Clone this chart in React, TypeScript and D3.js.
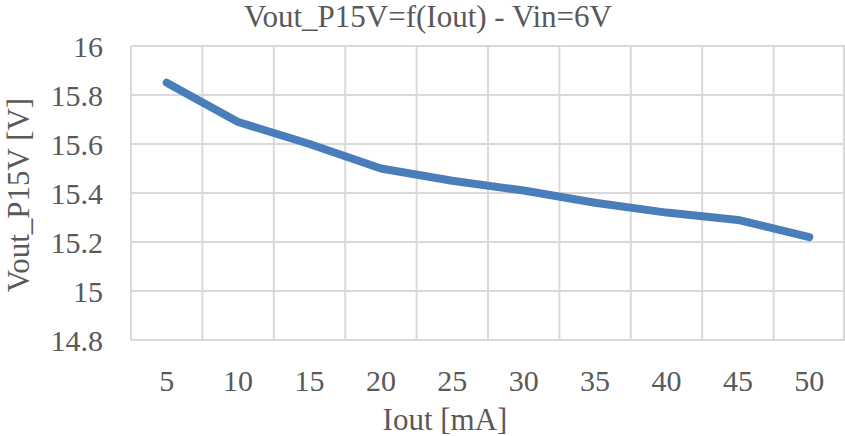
import React, { useRef, useEffect } from 'react';
import * as d3 from 'd3';

const currents = ['5', '10', '15', '20', '25', '30', '35', '40', '45', '50'];
const vout = [15.85, 15.69, 15.6, 15.5, 15.45, 15.41, 15.36, 15.32, 15.29, 15.22];
const yTicks = [14.8, 15, 15.2, 15.4, 15.6, 15.8, 16];

const FONT = '"Liberation Serif", "DejaVu Serif", serif';
const TEXT = '#595959';

const App: React.FC = () => {
  const svgRef = useRef<SVGSVGElement>(null);

  useEffect(() => {
    if (!svgRef.current) return;
    const svg = d3.select(svgRef.current);
    svg.selectAll('*').remove();

    const width = 845;
    const height = 436;
    const left = 131;
    const right = 845;
    const top = 46;
    const bottom = 340;

    svg.attr('width', width).attr('height', height);

    const x = d3.scaleBand<string>().domain(currents).range([left, right]);
    const y = d3.scaleLinear().domain([14.8, 16]).range([bottom, top]);

    const grid = svg.append('g').attr('stroke', '#d9d9d9').attr('stroke-width', 2);

    grid.selectAll('.h')
      .data(yTicks)
      .enter().append('line')
      .attr('x1', left).attr('x2', right)
      .attr('y1', d => y(d)).attr('y2', d => y(d));

    const vLines = currents.map(c => x(c) as number).concat([right - 1]);
    grid.selectAll('.v')
      .data(vLines)
      .enter().append('line')
      .attr('x1', d => d).attr('x2', d => d)
      .attr('y1', top).attr('y2', bottom);

    const line = d3.line<number>()
      .x((_, i) => (x(currents[i]) as number) + x.bandwidth() / 2)
      .y(d => y(d));

    svg.append('path')
      .datum(vout)
      .attr('d', line)
      .attr('fill', 'none')
      .attr('stroke', '#4a7ebb')
      .attr('stroke-width', 8)
      .attr('stroke-linecap', 'round')
      .attr('stroke-linejoin', 'round');

    svg.append('g')
      .selectAll('text')
      .data(yTicks)
      .enter().append('text')
      .attr('x', left - 28)
      .attr('y', d => y(d))
      .attr('dy', '0.35em')
      .attr('text-anchor', 'end')
      .attr('font-family', FONT)
      .attr('font-size', 30)
      .attr('fill', TEXT)
      .text(d => d3.format('')(d));

    svg.append('g')
      .selectAll('text')
      .data(currents)
      .enter().append('text')
      .attr('x', d => (x(d) as number) + x.bandwidth() / 2)
      .attr('y', 380)
      .attr('dy', '0.35em')
      .attr('text-anchor', 'middle')
      .attr('font-family', FONT)
      .attr('font-size', 30)
      .attr('fill', TEXT)
      .text(d => d);

    svg.append('text')
      .attr('x', 445)
      .attr('y', 419)
      .attr('dy', '0.35em')
      .attr('text-anchor', 'middle')
      .attr('font-family', FONT)
      .attr('font-size', 31)
      .attr('fill', TEXT)
      .text('Iout [mA]');

    svg.append('text')
      .attr('transform', `translate(18,195) rotate(-90)`)
      .attr('dy', '0.35em')
      .attr('text-anchor', 'middle')
      .attr('font-family', FONT)
      .attr('font-size', 31)
      .attr('fill', TEXT)
      .text('Vout_P15V [V]');

    svg.append('text')
      .attr('x', 428)
      .attr('y', 16)
      .attr('dy', '0.35em')
      .attr('text-anchor', 'middle')
      .attr('font-family', FONT)
      .attr('font-size', 31)
      .attr('fill', TEXT)
      .text('Vout_P15V=f(Iout) - Vin=6V');
  }, []);

  return <svg ref={svgRef} style={{ position: 'absolute', left: 0, top: 0, background: '#fff' }}></svg>;
};

export default App;
